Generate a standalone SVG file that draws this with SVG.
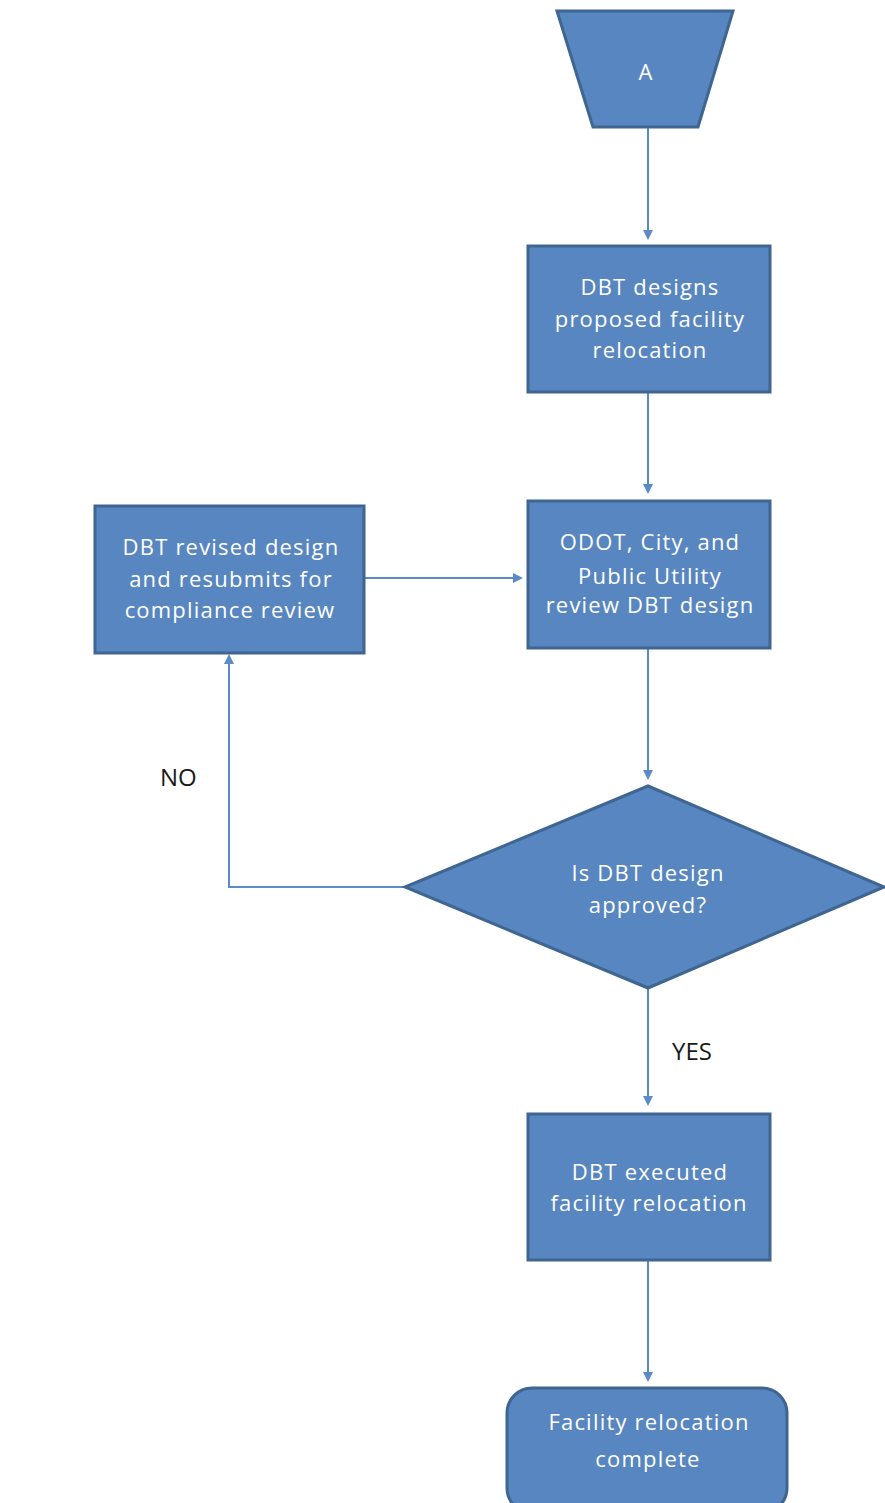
<svg xmlns="http://www.w3.org/2000/svg" width="885" height="1503" viewBox="0 0 885 1503">
<style>
.n{fill:#5886C0;stroke:#3F6591;stroke-width:3}
.t{font-family:"Open Sans","Liberation Sans",sans-serif;font-size:22px;letter-spacing:1.2px;fill:#FFFFFF;text-anchor:middle}
.c{fill:none;stroke:#5B8BC6;stroke-width:2}
.l{font-family:"Open Sans","Liberation Sans",sans-serif;font-size:24px;fill:#1a1a1a}
</style>
<defs>
<marker id="ah" markerWidth="10" markerHeight="10" refX="8" refY="5" orient="auto" markerUnits="userSpaceOnUse">
<path d="M0,0 L10,5 L0,10 Z" fill="#5B8BC6"/>
</marker>
</defs>
<rect width="885" height="1503" fill="#FFFFFF"/>
<g id="connectors">
<path class="c" d="M648,128 L648,238" marker-end="url(#ah)"/>
<path class="c" d="M648,393 L648,492" marker-end="url(#ah)"/>
<path class="c" d="M365,578 L521,578" marker-end="url(#ah)"/>
<path class="c" d="M648,649 L648,778" marker-end="url(#ah)"/>
<path class="c" d="M404,887 L229,887 L229,656" marker-end="url(#ah)"/>
<path class="c" d="M648,989 L648,1104" marker-end="url(#ah)"/>
<path class="c" d="M648,1261 L648,1380" marker-end="url(#ah)"/>
<text class="l" x="160" y="786">NO</text>
<text class="l" x="672" y="1060">YES</text>
</g>
<g id="nodeA">
<polygon class="n" points="557,11 733,11 698,127 593,127"/>
<text class="t" x="646" y="80">A</text>
</g>
<g id="nodeDesign">
<rect class="n" x="528" y="246" width="242" height="146"/>
<text class="t" x="650" y="295">DBT designs</text>
<text class="t" x="650" y="327">proposed facility</text>
<text class="t" x="650" y="358">relocation</text>
</g>
<g id="nodeReview">
<rect class="n" x="528" y="501" width="242" height="147"/>
<text class="t" x="650" y="550">ODOT, City, and</text>
<text class="t" x="650" y="584">Public Utility</text>
<text class="t" x="650" y="613">review DBT design</text>
</g>
<g id="nodeRevise">
<rect class="n" x="95" y="506" width="269" height="147"/>
<text class="t" x="231" y="555">DBT revised design</text>
<text class="t" x="231" y="587">and resubmits for</text>
<text class="t" x="230" y="618">compliance review</text>
</g>
<g id="nodeDecision">
<polygon class="n" points="648,786 884,887 648,988 405,887"/>
<text class="t" x="648" y="881">Is DBT design</text>
<text class="t" x="648" y="913">approved?</text>
</g>
<g id="nodeExecute">
<rect class="n" x="528" y="1114" width="242" height="146"/>
<text class="t" x="650" y="1180">DBT executed</text>
<text class="t" x="649" y="1211">facility relocation</text>
</g>
<g id="nodeComplete">
<rect class="n" x="507" y="1388" width="280" height="125" rx="25" ry="25"/>
<text class="t" x="649" y="1430">Facility relocation</text>
<text class="t" x="648" y="1467">complete</text>
</g>
</svg>
